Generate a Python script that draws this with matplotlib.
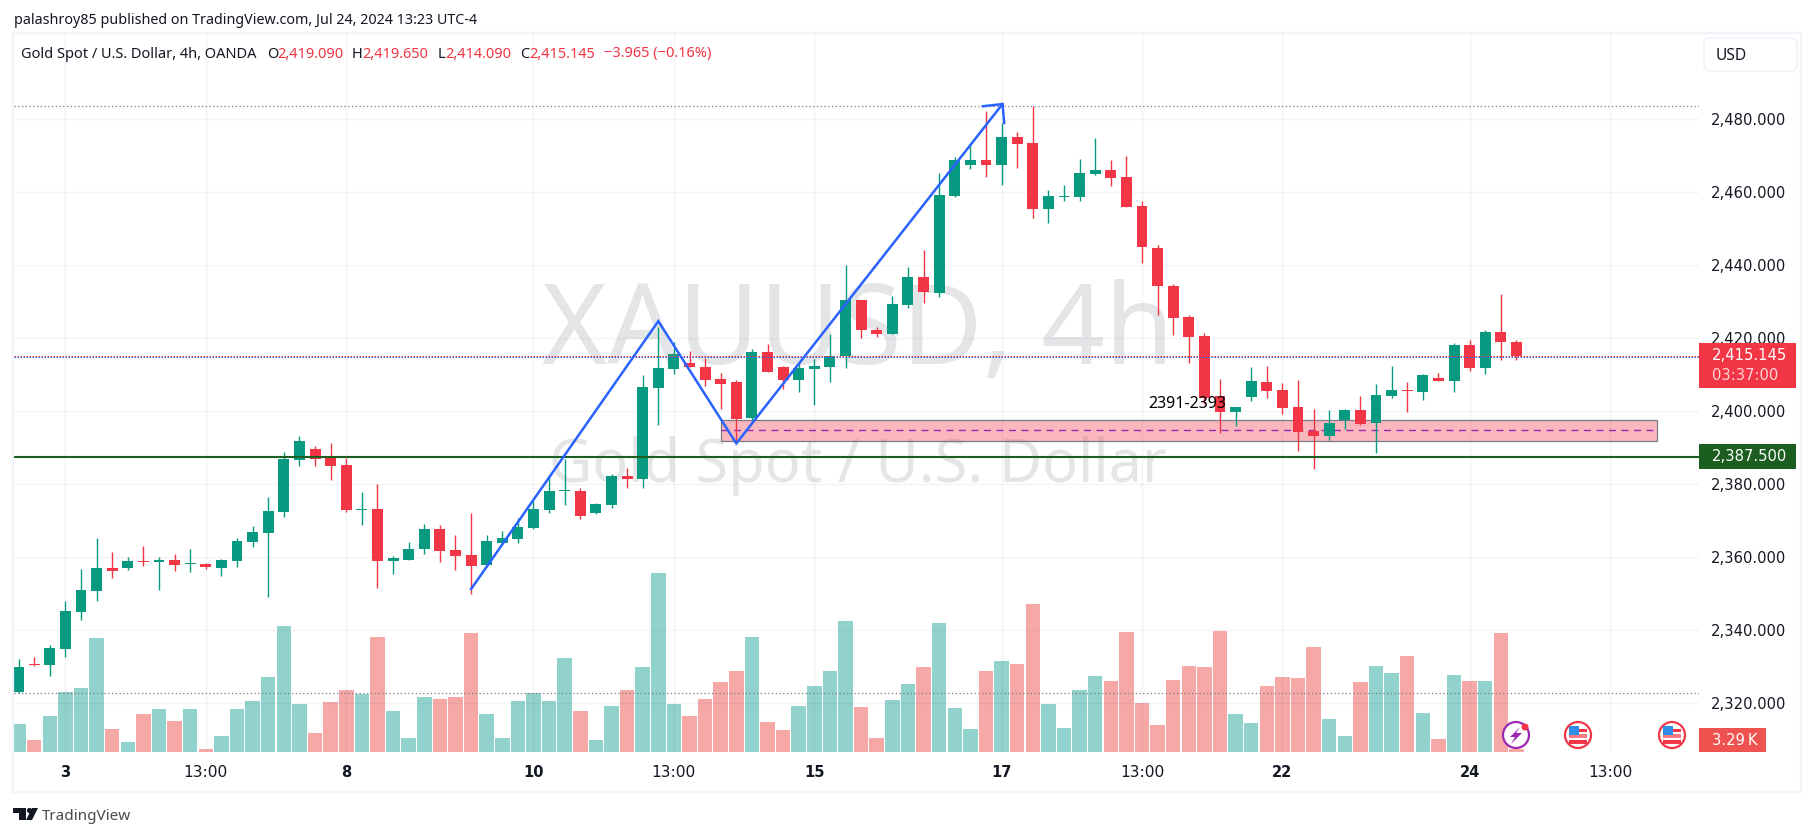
#!/usr/bin/env python3

import sys

import matplotlib
matplotlib.use("Agg")
from matplotlib import patches, pyplot, ticker


# 4h candles
OPENS = [
    2323.1, 2330.8, 2330.5, 2334.9, 2345.0, 2350.8, 2357.1, 2357.1, 2359.0, 2358.7,
    2359.3, 2358.2, 2358.2, 2357.1, 2359.0, 2364.2, 2366.7, 2372.4, 2386.7, 2389.7,
    2387.2, 2385.3, 2373.0, 2373.2, 2359.0, 2359.3, 2362.3, 2367.8, 2362.0, 2360.6,
    2357.9, 2363.9, 2365.0, 2368.0, 2373.0, 2378.2, 2378.2, 2372.1, 2374.3, 2382.3,
    2381.4, 2406.4, 2411.6, 2413.2, 2412.1, 2408.9, 2408.0, 2398.2, 2416.2, 2412.1,
    2408.6, 2411.6, 2412.1, 2415.1, 2430.5, 2422.3, 2421.2, 2429.1, 2436.8, 2432.4,
    2459.0, 2467.5, 2468.9, 2467.5, 2475.2, 2473.5, 2455.4, 2458.7, 2458.7, 2465.0,
    2466.1, 2464.2, 2456.3, 2444.7, 2434.3, 2425.8, 2420.6, 2404.2, 2399.8, 2403.9,
    2408.0, 2405.8, 2401.2, 2394.6, 2393.2, 2397.6, 2400.4, 2396.8, 2404.2, 2405.8,
    2405.3, 2409.1, 2408.3, 2418.2, 2411.9, 2421.7, 2419.09,
]
HIGHS = [
    2332.0, 2332.7, 2336.0, 2348.0, 2356.8, 2365.3, 2361.5, 2360.1, 2363.1, 2360.1,
    2360.9, 2362.3, 2358.4, 2359.5, 2365.3, 2368.6, 2376.5, 2388.9, 2393.2, 2390.5,
    2391.3, 2387.2, 2377.9, 2380.1, 2360.4, 2364.2, 2369.1, 2368.9, 2366.1, 2372.1,
    2366.1, 2367.2, 2370.8, 2375.4, 2382.3, 2386.9, 2379.0, 2374.9, 2382.8, 2384.5,
    2409.9, 2423.2, 2419.0, 2416.5, 2414.6, 2410.5, 2408.6, 2417.1, 2418.4, 2412.4,
    2413.0, 2414.3, 2421.2, 2440.0, 2430.5, 2423.1, 2431.6, 2439.5, 2444.2, 2465.3,
    2469.7, 2473.2, 2482.3, 2479.0, 2476.5, 2483.6, 2460.6, 2462.0, 2469.1, 2474.9,
    2468.9, 2470.0, 2457.6, 2445.6, 2434.9, 2426.4, 2421.4, 2408.9, 2401.2, 2412.1,
    2412.4, 2407.8, 2408.6, 2400.6, 2400.4, 2400.6, 2404.2, 2407.5, 2412.4, 2408.0,
    2410.2, 2410.5, 2418.7, 2419.5, 2422.3, 2432.1, 2419.65,
]
LOWS = [
    2322.7, 2330.2, 2327.5, 2332.7, 2342.8, 2348.0, 2354.3, 2356.5, 2357.6, 2351.0,
    2356.3, 2356.0, 2356.8, 2354.9, 2357.3, 2362.8, 2349.1, 2371.0, 2385.0, 2385.0,
    2381.2, 2372.4, 2368.9, 2351.6, 2355.4, 2359.3, 2360.9, 2358.7, 2356.5, 2350.0,
    2357.9, 2363.9, 2363.9, 2367.8, 2372.1, 2374.3, 2370.5, 2371.9, 2373.5, 2379.0,
    2379.0, 2396.2, 2410.2, 2412.1, 2406.9, 2400.6, 2391.2, 2397.6, 2410.8, 2406.1,
    2405.3, 2401.7, 2408.0, 2411.9, 2420.1, 2420.3, 2421.2, 2428.3, 2429.7, 2431.3,
    2458.7, 2466.4, 2464.2, 2462.0, 2466.7, 2453.0, 2451.6, 2457.6, 2457.6, 2464.7,
    2461.7, 2456.0, 2440.6, 2426.4, 2420.9, 2413.2, 2402.0, 2394.0, 2396.0, 2402.8,
    2403.6, 2399.3, 2389.1, 2384.2, 2392.1, 2395.1, 2396.2, 2388.6, 2403.6, 2399.8,
    2403.1, 2408.3, 2405.3, 2411.0, 2410.2, 2414.0, 2414.09,
]
CLOSES = [
    2330.0, 2330.5, 2335.2, 2345.3, 2351.0, 2357.1, 2356.3, 2359.0, 2358.7, 2359.3,
    2357.9, 2358.4, 2357.3, 2359.3, 2364.5, 2366.9, 2372.7, 2386.9, 2391.9, 2386.9,
    2385.0, 2373.0, 2373.2, 2359.0, 2359.8, 2362.3, 2367.8, 2361.7, 2360.4, 2357.6,
    2364.5, 2365.3, 2368.3, 2373.2, 2378.2, 2378.4, 2371.3, 2374.6, 2382.3, 2381.4,
    2406.7, 2411.9, 2415.7, 2412.1, 2408.6, 2407.5, 2397.9, 2416.2, 2410.8, 2408.6,
    2411.9, 2412.4, 2415.1, 2430.5, 2422.3, 2421.2, 2429.4, 2436.8, 2432.7, 2459.3,
    2468.9, 2468.9, 2467.5, 2475.2, 2473.2, 2455.4, 2459.0, 2459.0, 2465.3, 2466.1,
    2463.9, 2456.0, 2445.0, 2434.3, 2425.6, 2420.4, 2403.6, 2399.8, 2401.2, 2408.3,
    2405.6, 2400.9, 2394.3, 2393.2, 2396.8, 2400.4, 2396.5, 2404.5, 2405.8, 2405.6,
    2409.9, 2408.3, 2418.2, 2411.9, 2421.7, 2419.0, 2415.145,
]
# Volume in thousands
VOLUMES = [
    28, 12, 36, 60, 64, 114, 23, 10, 38, 43,
    31, 43, 3, 16, 43, 51, 75, 126, 48, 19,
    50, 62, 58, 115, 41, 14, 55, 53, 55, 119,
    38, 14, 51, 59, 51, 94, 41, 12, 46, 62,
    85, 179, 48, 36, 53, 70, 81, 115, 30, 22,
    46, 66, 81, 131, 45, 14, 52, 68, 85, 129,
    44, 23, 81, 91, 88, 148, 48, 24, 62, 76,
    71, 120, 49, 27, 72, 86, 85, 121, 38, 29,
    66, 75, 74, 105, 33, 16, 70, 86, 79, 96,
    39, 13, 77, 71, 71, 119, 3.29,
]

PRICE_TICKS = [2320, 2340, 2360, 2380, 2400, 2420, 2440, 2460, 2480]
TIME_TICK_BARS = [3, 12, 21, 33, 42, 51, 63, 72, 81, 93, 102]
TIME_TICK_LABELS = ["3", "13:00", "8", "10", "13:00", "15", "17", "13:00", "22", "24", "13:00"]

LAST_PRICE = 2415.145
SUPPORT_PRICE = 2387.5
VISIBLE_HIGH = 2483.6
VISIBLE_LOW = 2322.7

# Hand drawn things on the chart
WAVE_BARS = [29, 41, 46, 63.06]
WAVE_PRICES = [2351.3, 2424.7, 2391.2, 2484.2]
ARROW_BARS = [61.8, 63.06, 63.17]
ARROW_PRICES = [2483.6, 2484.2, 2479.0]
ZONE_BARS = [45, 105]
ZONE_PRICES = [2391.8, 2397.7]
ZONE_MID = 2394.75

GREEN = "#089981"
RED = "#f23645"
BLUE = "#2962ff"
DARK_GREEN = "#1b5e20"
TEXT = "#131722"
FRAME = "#f0f3fa"
FONT = "Noto Sans"
NUMBER_FONT = "DejaVu Sans"

WIDTH, HEIGHT = 1814, 836
# Pane edges in pixels
LEFT, RIGHT, TOP, BOTTOM = 14, 1699, 34, 752


def draw_candles(axes):
    colours = [GREEN if c >= o else RED for o, c in zip(OPENS, CLOSES)]
    bars = range(len(OPENS))
    axes.vlines(bars, LOWS, HIGHS, colors=colours, linewidth=1.0, zorder=3)
    bottoms = [min(o, c) for o, c in zip(OPENS, CLOSES)]
    heights = [abs(o - c) for o, c in zip(OPENS, CLOSES)]
    axes.bar(bars, heights, bottom=bottoms, width=0.7, color=colours, linewidth=0, zorder=4)


def draw_volume(axes):
    colours = ["#26a69a" if c >= o else "#ef5350" for o, c in zip(OPENS, CLOSES)]
    axes.bar(range(len(VOLUMES)), VOLUMES, width=0.93, color=colours, alpha=0.5, linewidth=0)


def draw_levels(axes):
    # Last price is a red row of dots sitting on a blue row
    axes.axhline(LAST_PRICE + 0.14, color=RED, linewidth=0.72, linestyle=(0, (1.5, 1.5)), zorder=5)
    axes.axhline(LAST_PRICE - 0.14, color=BLUE, linewidth=0.72, linestyle=(0, (1.5, 1.5)), zorder=5)
    axes.axhline(SUPPORT_PRICE, color=DARK_GREEN, linewidth=1.5, zorder=5)
    for price in (VISIBLE_HIGH, VISIBLE_LOW):
        axes.axhline(price, color="#787b86", linewidth=0.9, linestyle=(0, (1, 2)), zorder=5)


def draw_zone(axes):
    zone = patches.Rectangle(
        (ZONE_BARS[0], ZONE_PRICES[0]), ZONE_BARS[1] - ZONE_BARS[0], ZONE_PRICES[1] - ZONE_PRICES[0],
        facecolor=RED, alpha=0.35, edgecolor="none", zorder=2,
    )
    axes.add_patch(zone)
    border = patches.Rectangle(
        (ZONE_BARS[0], ZONE_PRICES[0]), ZONE_BARS[1] - ZONE_BARS[0], ZONE_PRICES[1] - ZONE_PRICES[0],
        facecolor="none", edgecolor="#787b86", linewidth=0.9, zorder=2.5,
    )
    axes.add_patch(border)
    axes.plot(ZONE_BARS, [ZONE_MID, ZONE_MID], color="#9c27b0", linewidth=1.0,
              linestyle=(0, (5, 4)), zorder=2.6)


def draw_wave(axes):
    axes.plot(WAVE_BARS, WAVE_PRICES, color=BLUE, linewidth=1.8, zorder=6, solid_joinstyle="miter")
    axes.plot(ARROW_BARS, ARROW_PRICES, color=BLUE, linewidth=1.8, zorder=6)
    axes.text(72.4, 2402, "2391-2393", color="black", fontsize=11.5, family=FONT, va="center", zorder=7)


def price_label(chrome, top, bottom, right, colour):
    box = patches.Rectangle((RIGHT, top), right - RIGHT, bottom - top, facecolor=colour, edgecolor="none")
    chrome.add_patch(box)


def draw_flag(chrome, x, y):
    chrome.add_patch(patches.Circle((x, y), 13, facecolor="white", edgecolor=RED, linewidth=1.6))
    chrome.add_patch(patches.Rectangle((x - 9, y - 1), 18, 3.5, facecolor="#f77c80", edgecolor="none"))
    chrome.add_patch(patches.Rectangle((x - 9, y + 5), 18, 3.5, facecolor=RED, edgecolor="none"))
    chrome.add_patch(patches.Rectangle((x - 9, y - 9), 10, 9, facecolor="#2e8ee8", edgecolor="none"))
    chrome.add_patch(patches.Rectangle((x + 1, y - 6), 8, 3, facecolor=RED, edgecolor="none"))


def draw_chrome(figure):
    chrome = figure.add_axes([0, 0, 1, 1], zorder=5)
    chrome.set_xlim(0, WIDTH)
    chrome.set_ylim(HEIGHT, 0)
    chrome.axis("off")

    # Outer frame and currency button
    chrome.add_patch(patches.Rectangle((13, 33), 1788, 759, facecolor="none", edgecolor=FRAME, linewidth=1.6))
    chrome.add_patch(patches.FancyBboxPatch(
        (1708, 42), 85, 25, boxstyle="round,pad=4,rounding_size=6",
        facecolor="white", edgecolor=FRAME, linewidth=1.2,
    ))
    chrome.text(1716, 55.5, "USD", color=TEXT, fontsize=11.2, family=FONT, va="center")

    # Headline and legend
    chrome.text(13.5, 20.5, "palashroy85 published on TradingView.com, Jul 24, 2024 13:23 UTC-4",
                color=TEXT, fontsize=10.3, family=FONT, va="center")
    chrome.text(21, 54, "Gold Spot / U.S. Dollar, 4h, OANDA", color=TEXT, fontsize=10.5, family=FONT, va="center")
    legend = [
        (267, "O", TEXT), (277, "2,419.090", RED), (352, "H", TEXT), (362, "2,419.650", RED),
        (438, "L", TEXT), (445, "2,414.090", RED), (520, "C", TEXT), (529, "2,415.145", RED),
        (604, "\u22123.965 (\u22120.16%)", RED),
    ]
    for x, label, colour in legend:
        chrome.text(x, 54, label, color=colour, fontsize=10.5, family=FONT, va="center")

    # Price scale labels
    price_label(chrome, 343, 388, 1796, RED)
    chrome.text(1712, 355, "2,415.145", color="white", fontsize=10.6, family=NUMBER_FONT, va="center")
    chrome.text(1712, 375, "03:37:00", color="#fcd5d8", fontsize=10.6, family=NUMBER_FONT, va="center")
    price_label(chrome, 444, 469, 1796, DARK_GREEN)
    chrome.text(1712, 456.5, "2,387.500", color="white", fontsize=10.6, family=NUMBER_FONT, va="center")
    price_label(chrome, 728, 752, 1766, "#ef5350")
    chrome.text(1712, 740.5, "3.29\u2009K", color="white", fontsize=10.6, family=NUMBER_FONT, va="center")

    # Event icons on the time scale
    chrome.add_patch(patches.Circle((1516, 735), 13, facecolor="white", edgecolor="#9c27b0", linewidth=1.6))
    chrome.add_patch(patches.Polygon(
        [(1520, 727), (1510, 737), (1515, 737), (1511, 744), (1522, 733), (1516, 733)],
        facecolor="#9c27b0", edgecolor="none",
    ))
    chrome.add_patch(patches.Circle((1525, 727), 3.5, facecolor=RED, edgecolor="none"))
    draw_flag(chrome, 1578, 735)
    draw_flag(chrome, 1672, 735)

    # TradingView logo
    chrome.add_patch(patches.Polygon(
        [(13, 808), (26, 808), (26, 820), (19, 820), (19, 813), (13, 813)],
        facecolor=TEXT, edgecolor="none",
    ))
    chrome.add_patch(patches.Circle((29.5, 810.5), 2.6, facecolor=TEXT, edgecolor="none"))
    chrome.add_patch(patches.Polygon(
        [(32, 808), (38, 808), (32, 820), (26, 820)], facecolor=TEXT, edgecolor="none",
    ))
    chrome.text(42, 817, "TradingView", color="#4a4a4f", fontsize=11, family=FONT, va="center")


def plot():
    figure = pyplot.figure(figsize=(WIDTH / 100, HEIGHT / 100), dpi=100)
    rect = [LEFT / WIDTH, 1 - BOTTOM / HEIGHT, (RIGHT - LEFT) / WIDTH, (BOTTOM - TOP) / HEIGHT]

    volume_axes = figure.add_axes(rect, zorder=1)
    axes = figure.add_axes(rect, zorder=2)
    axes.patch.set_visible(False)

    # One thousand of volume is about one pixel
    volume_axes.set_ylim(0, BOTTOM - TOP)
    volume_axes.set_xlim(-0.295, 107.7)
    volume_axes.axis("off")
    draw_volume(volume_axes)

    axes.set_xlim(-0.295, 107.7)
    axes.set_ylim(2306.65, 2503.4)
    for side in ("top", "right", "bottom", "left"):
        axes.spines[side].set_visible(False)

    axes.yaxis.tick_right()
    axes.set_yticks(PRICE_TICKS)
    axes.yaxis.set_major_formatter(ticker.StrMethodFormatter("{x:,.3f}"))
    axes.set_xticks(TIME_TICK_BARS)
    axes.set_xticklabels(TIME_TICK_LABELS)
    axes.tick_params(axis="y", length=0, pad=8.5, labelsize=10.6, labelcolor=TEXT)
    axes.tick_params(axis="x", length=0, pad=9.5, labelsize=11.2, labelcolor=TEXT)
    # Day numbers are heavier than the clock times
    for label in axes.get_xticklabels():
        if ":" not in label.get_text():
            label.set_fontweight("bold")
            label.set_fontsize(10.5)
    axes.grid(True, color="#1e2a5a", alpha=0.05, linewidth=1.0)
    axes.set_axisbelow(True)

    # Symbol watermark
    axes.text(53.8, 2421, "XAUUSD, 4h", color="#e4e5e7", fontsize=80, family=FONT,
              ha="center", va="center", zorder=0.5)
    axes.text(53.8, 2385, "Gold Spot / U.S. Dollar", color="#e4e5e7", fontsize=42.8, family=FONT,
              ha="center", va="center", zorder=0.5)

    draw_zone(axes)
    draw_candles(axes)
    draw_levels(axes)
    draw_wave(axes)
    draw_chrome(figure)

    figure.savefig("out.png", dpi=100)


def main() -> int:
    plot()
    return 0


if __name__ == "__main__":
    sys.exit(main())
